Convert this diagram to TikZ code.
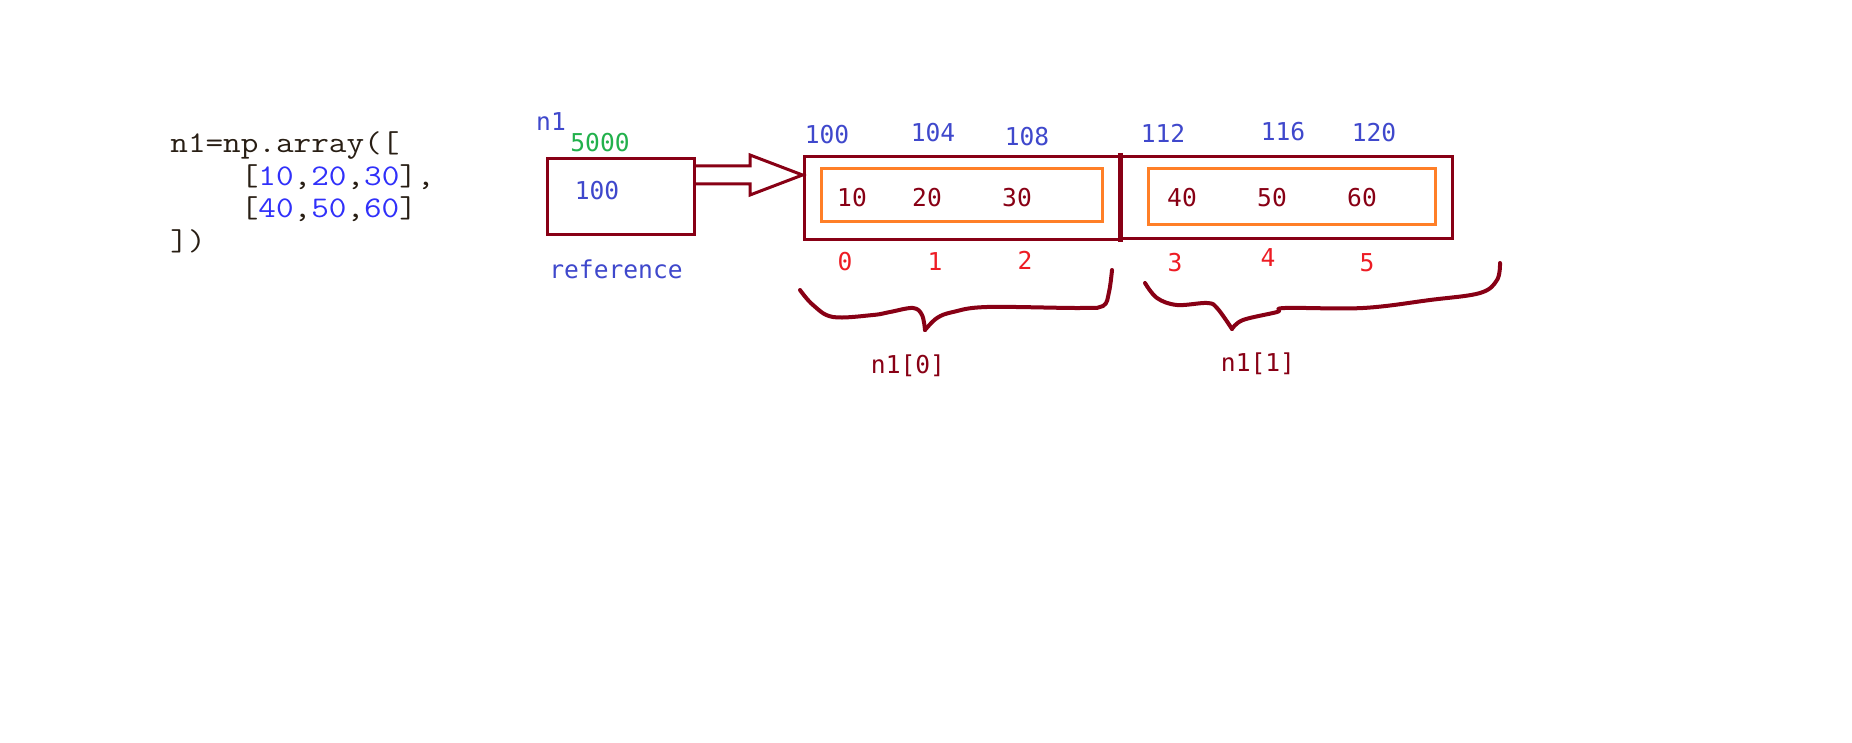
\documentclass[tikz,border=0pt]{standalone}
\usepackage{fontspec}
\usetikzlibrary{calc}
\newfontfamily\labelfont{DejaVu Sans Mono}
\definecolor{figdarkred}{RGB}{136,0,21}
\definecolor{figorange}{RGB}{255,127,39}
\definecolor{figred}{RGB}{237,28,36}
\definecolor{figgreen}{RGB}{34,177,76}
\definecolor{figindigo}{RGB}{63,72,204}
\definecolor{figcodeblue}{RGB}{48,48,250}
\definecolor{figcodetext}{RGB}{40,30,20}
\newcommand{\codeline}[1]{\scalebox{1.14}[1]{#1}}

\begin{document}
\begin{tikzpicture}[x=0.5pt,y=-0.5pt,
    code/.style={font=\ttfamily\fontsize{15}{15.5}\selectfont,text=figcodetext,inner sep=0pt,anchor=base west},
    lbl/.style={font=\labelfont\fontsize{12.3}{14}\selectfont,inner sep=0pt},
    cellbox/.style={draw=figdarkred,line width=1.5pt,inner sep=0pt},
    rowbox/.style={draw=figorange,line width=1.5pt,inner sep=0pt},
    brace/.style={figdarkred,line width=2pt,line cap=round,line join=round}]
  \useasboundingbox[fill=white] (0,0) rectangle (1852,743);
  % the python code
  \node[code] (code0) at (170,153) {\codeline{n1=np.array([}};
  \node[code] (code1) at (170,186) {\codeline{\phantom{nnnn}[\textcolor{figcodeblue}{10},\textcolor{figcodeblue}{20},\textcolor{figcodeblue}{30}],}};
  \node[code] (code2) at (170,218) {\codeline{\phantom{nnnn}[\textcolor{figcodeblue}{40},\textcolor{figcodeblue}{50},\textcolor{figcodeblue}{60}]}};
  \node[code] (code3) at (170,251) {\codeline{])}};
  % the reference variable
  \node[cellbox,minimum width=73.5pt,minimum height=38pt] (refbox) at (620.5,197) {};
  \node[lbl,text=figindigo] (refval) at (597,191) {100};
  \node[lbl,text=figindigo] (refname) at (551,122) {n1};
  \node[lbl,text=figgreen] (refaddr) at (600,143) {5000};
  \node[lbl,text=figindigo] (reflbl) at (616,269) {reference};
  % the array in memory
  \node[cellbox,minimum width=157.5pt,minimum height=41.5pt] (arr0) at (961.5,198.5) {};
  \node[cellbox,minimum width=166.5pt,minimum height=41pt] (arr1) at (1285.5,198) {};
  \draw[figdarkred,line width=2.5pt] (arr0.east |- 0,153) -- (arr0.east |- 0,242);
  \node[rowbox,minimum width=140.5pt,minimum height=26.5pt] (row0) at (961.5,195.5) {};
  \node[rowbox,minimum width=143.5pt,minimum height=28pt] (row1) at (1291.5,197) {};
  % pointer arrow
  \coordinate (tip) at (arr0.west |- 0,175);
  \draw[figdarkred,line width=1.5pt,line join=miter]
    (refbox.east |- 0,166) -- (750,166) -- (750,155) -- (tip)
    -- (750,195) -- (750,184) -- (refbox.east |- 0,184);
  % values, addresses and indices
  \foreach \v/\x in {10/852,20/927,30/1017,40/1182,50/1272,60/1362}
    \node[lbl,text=figdarkred] (val\v) at (\x,198) {\v};
  \foreach \a/\x/\y in {100/827/135,104/933/133,108/1027/137,112/1163/133,116/1283/132,120/1374/133}
    \node[lbl,text=figindigo] (addr\a) at (\x,\y) {\a};
  \foreach \i/\x/\y in {0/845/262,1/935/262,2/1025/260,3/1175/263,4/1268/258,5/1367/263}
    \node[lbl,text=figred] (idx\i) at (\x,\y) {\i};
  % braces
  \draw[brace] plot[smooth,tension=0.6] coordinates {(800,290) (813,305) (833,317) (873,315) (890,312) (913,308) (922,315) (925,330)};
  \draw[brace] plot[smooth,tension=0.6] coordinates {(925,330) (937,318) (953,312) (987,307) (1080,308) (1103,306) (1109,292) (1112,270)};
  \draw[brace] plot[smooth,tension=0.6] coordinates {(1145,283) (1157,298) (1177,305) (1207,303) (1217,308) (1232,329)};
  \draw[brace] plot[smooth,tension=0.6] coordinates {(1232,329) (1243,320) (1277,312) (1285,308) (1363,308) (1430,300) (1480,293) (1497,280) (1500,263)};
  \node[lbl,text=figdarkred] (sub0) at (908,366) {n1[0]};
  \node[lbl,text=figdarkred] (sub1) at (1258,364) {n1[1]};
\end{tikzpicture}
\end{document}
